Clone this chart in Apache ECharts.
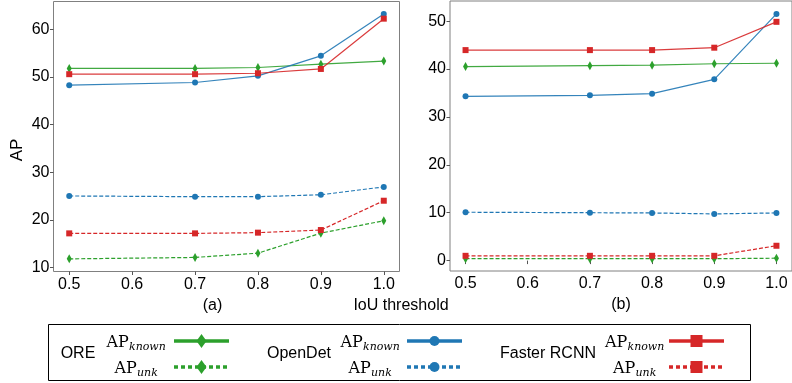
<!DOCTYPE html>
<html><head><meta charset="utf-8">
<script src="https://cdn.jsdelivr.net/npm/echarts@6/dist/echarts.min.js"></script>
<style>html,body{margin:0;padding:0;background:#fff}#c{width:792px;height:383px}</style>
</head><body><div id="c"></div>
<script>
// ---------- data ----------
const thresholds = [0.5, 0.7, 0.8, 0.9, 1.0];
const xTicks = [0.5, 0.6, 0.7, 0.8, 0.9, 1.0];
const yTicksA = [10, 20, 30, 40, 50, 60];
const yTicksB = [0, 10, 20, 30, 40, 50];
const panelNames = ['(a)', '(b)'];
const xAxisTitle = 'IoU threshold';
const yAxisTitle = 'AP';
const methods = ['ORE', 'OpenDet', 'Faster RCNN'];
// Panel (a)
const a_ORE_known     = [51.75, 51.75, 51.95, 52.65, 53.3];
const a_ORE_unk       = [11.8, 12.1, 13.0, 17.2, 19.8];
const a_OpenDet_known = [48.25, 48.8, 50.2, 54.4, 63.2];
const a_OpenDet_unk   = [25.0, 24.85, 24.85, 25.25, 26.9];
const a_Faster_known  = [50.55, 50.55, 50.75, 51.65, 62.2];
const a_Faster_unk    = [17.15, 17.15, 17.3, 17.85, 24.0];
// Panel (b)
const b_ORE_known     = [40.5, 40.7, 40.8, 41.1, 41.2];
const b_ORE_unk       = [0.4, 0.4, 0.4, 0.4, 0.5];
const b_OpenDet_known = [34.3, 34.5, 34.85, 37.85, 51.5];
const b_OpenDet_unk   = [10.1, 10.0, 9.95, 9.75, 9.95];
const b_Faster_known  = [43.95, 43.95, 43.95, 44.45, 49.85];
const b_Faster_unk    = [1.0, 1.0, 1.0, 1.0, 3.1];

// ---------- styles ----------
const GREEN = '#2ca02c', BLUE = '#1f77b4', RED = '#d62728';
const FONT = 'Liberation Sans, Arial, sans-serif';
const SERIF = 'DejaVu Serif, serif';
const diamondPath = 'path://M0,-1L0.55,0L0,1L-0.55,0Z';

function mk(name, vals, gi, color, symbol, size, dashed) {
  return {
    name: name, type: 'line', xAxisIndex: gi, yAxisIndex: gi,
    data: thresholds.map((x, i) => [x, vals[i]]),
    symbol: symbol, symbolSize: size, showSymbol: true,
    itemStyle: { color: color },
    lineStyle: { color: color, width: 1.2, type: dashed ? [4, 2] : 'solid', opacity: dashed ? 1 : 0.9 },
    animation: false, silent: true, z: 3
  };
}
const series = [];
[[0, [a_ORE_known, a_ORE_unk, a_OpenDet_known, a_OpenDet_unk, a_Faster_known, a_Faster_unk]],
 [1, [b_ORE_known, b_ORE_unk, b_OpenDet_known, b_OpenDet_unk, b_Faster_known, b_Faster_unk]]]
.forEach(([gi, arr]) => {
  series.push(mk('ORE known', arr[0], gi, GREEN, diamondPath, [5, 9], false));
  series.push(mk('ORE unk', arr[1], gi, GREEN, diamondPath, [5, 9], true));
  series.push(mk('OpenDet unk', arr[3], gi, BLUE, 'circle', 6, true));
  series.push(mk('Faster RCNN unk', arr[5], gi, RED, 'rect', 6, true));
  series.push(mk('OpenDet known', arr[2], gi, BLUE, 'circle', 6, false));
  series.push(mk('Faster RCNN known', arr[4], gi, RED, 'rect', 6, false));
});

function xAx(gi) {
  return {
    type: 'value', gridIndex: gi, min: 0.475, max: 1.025,
    name: panelNames[gi], nameLocation: 'middle', nameGap: 21,
    nameTextStyle: { fontFamily: FONT, fontSize: 16, color: '#000', padding: gi === 0 ? [0, 28, 0, 0] : [0, 0, 0, 0] },
    axisLine: { show: false }, splitLine: { show: false },
    axisTick: { show: true, length: 3.5, customValues: xTicks, lineStyle: { color: '#555' } },
    axisLabel: { customValues: xTicks, formatter: v => v.toFixed(1), fontFamily: FONT, fontSize: 16, color: '#000', margin: 5 }
  };
}
function yAx(gi, min, max, ticks) {
  return {
    type: 'value', gridIndex: gi, min: min, max: max,
    name: gi === 0 ? yAxisTitle : '', nameLocation: 'middle', nameGap: 28, nameRotate: 90,
    nameTextStyle: { fontFamily: FONT, fontSize: 17, color: '#000', padding: [0, 27, 0, 0] },
    axisLine: { show: false }, splitLine: { show: false },
    axisTick: { show: true, length: 3.5, customValues: ticks, lineStyle: { color: '#555' } },
    axisLabel: { customValues: ticks, fontFamily: FONT, fontSize: 16, color: '#000', margin: 4 }
  };
}

// ---------- legend (drawn as graphics) ----------
const g = [];
g.push({ type: 'rect', shape: { x: 48.5, y: 324.5, width: 702, height: 56 }, style: { fill: 'none', stroke: '#000', lineWidth: 1 }, silent: true });
const groups = [
  { label: methods[0], lx: 78, apx: 136, lineX: 174, color: GREEN, sym: 'diamond' },
  { label: methods[1], lx: 299, apx: 370, lineX: 407, color: BLUE, sym: 'circle' },
  { label: methods[2], lx: 548, apx: 634.5, lineX: 669, color: RED, sym: 'square' }
];
const rows = [{ sub: 'known', y: 341, dash: null }, { sub: 'unk', y: 367, dash: [4, 3] }];
groups.forEach(gr => {
  g.push({ type: 'text', x: gr.lx, y: 354, style: { text: gr.label, font: '16px ' + FONT, fill: '#000', align: 'center', verticalAlign: 'middle' }, silent: true });
  rows.forEach(r => {
    const wAP = 22, wSub = r.sub === 'known' ? 37 : 21;
    const left = gr.apx - (wAP + wSub) / 2;
    g.push({ type: 'text', x: left, y: r.y + 2, style: { text: 'AP', font: '16px ' + SERIF, fill: '#000', align: 'left', verticalAlign: 'middle' }, silent: true });
    g.push({ type: 'text', x: left + wAP + 0.5, y: r.y + 6, style: { text: r.sub, font: 'italic 11px ' + SERIF, fill: '#000', align: 'left', verticalAlign: 'middle' }, silent: true });
    const x0 = gr.lineX, x1 = gr.lineX + 55, cx = (x0 + x1) / 2;
    g.push({ type: 'line', shape: { x1: x0, y1: r.y, x2: x1, y2: r.y }, style: { stroke: gr.color, lineWidth: 3.5, lineDash: r.dash }, silent: true });
    if (gr.sym === 'diamond') {
      g.push({ type: 'polygon', shape: { points: [[cx, r.y - 7], [cx + 5, r.y], [cx, r.y + 7], [cx - 5, r.y]] }, style: { fill: gr.color }, silent: true });
    } else if (gr.sym === 'circle') {
      g.push({ type: 'circle', shape: { cx: cx, cy: r.y, r: 5 }, style: { fill: gr.color }, silent: true });
    } else {
      g.push({ type: 'rect', shape: { x: cx - 6, y: r.y - 6, width: 12, height: 12 }, style: { fill: gr.color }, silent: true });
    }
  });
});
g.push({ type: 'text', x: 401, y: 306, style: { text: xAxisTitle, font: '16px ' + FONT, fill: '#000', align: 'center', verticalAlign: 'middle' }, silent: true });

const chart = echarts.init(document.getElementById('c'), null, { renderer: 'canvas' });
chart.setOption({
  animation: false,
  backgroundColor: '#fff',
  grid: [
    { left: 53.5, top: 1.5, width: 346, height: 270, show: true, borderColor: '#808080', borderWidth: 1, backgroundColor: 'transparent' },
    { left: 450, top: 1, width: 345, height: 270, show: true, borderColor: '#808080', borderWidth: 1, backgroundColor: 'transparent' }
  ],
  xAxis: [xAx(0), xAx(1)],
  yAxis: [yAx(0, 9.15, 65.8, yTicksA), yAx(1, -2.17, 54.2, yTicksB)],
  series: series,
  graphic: g
});
</script></body></html>
